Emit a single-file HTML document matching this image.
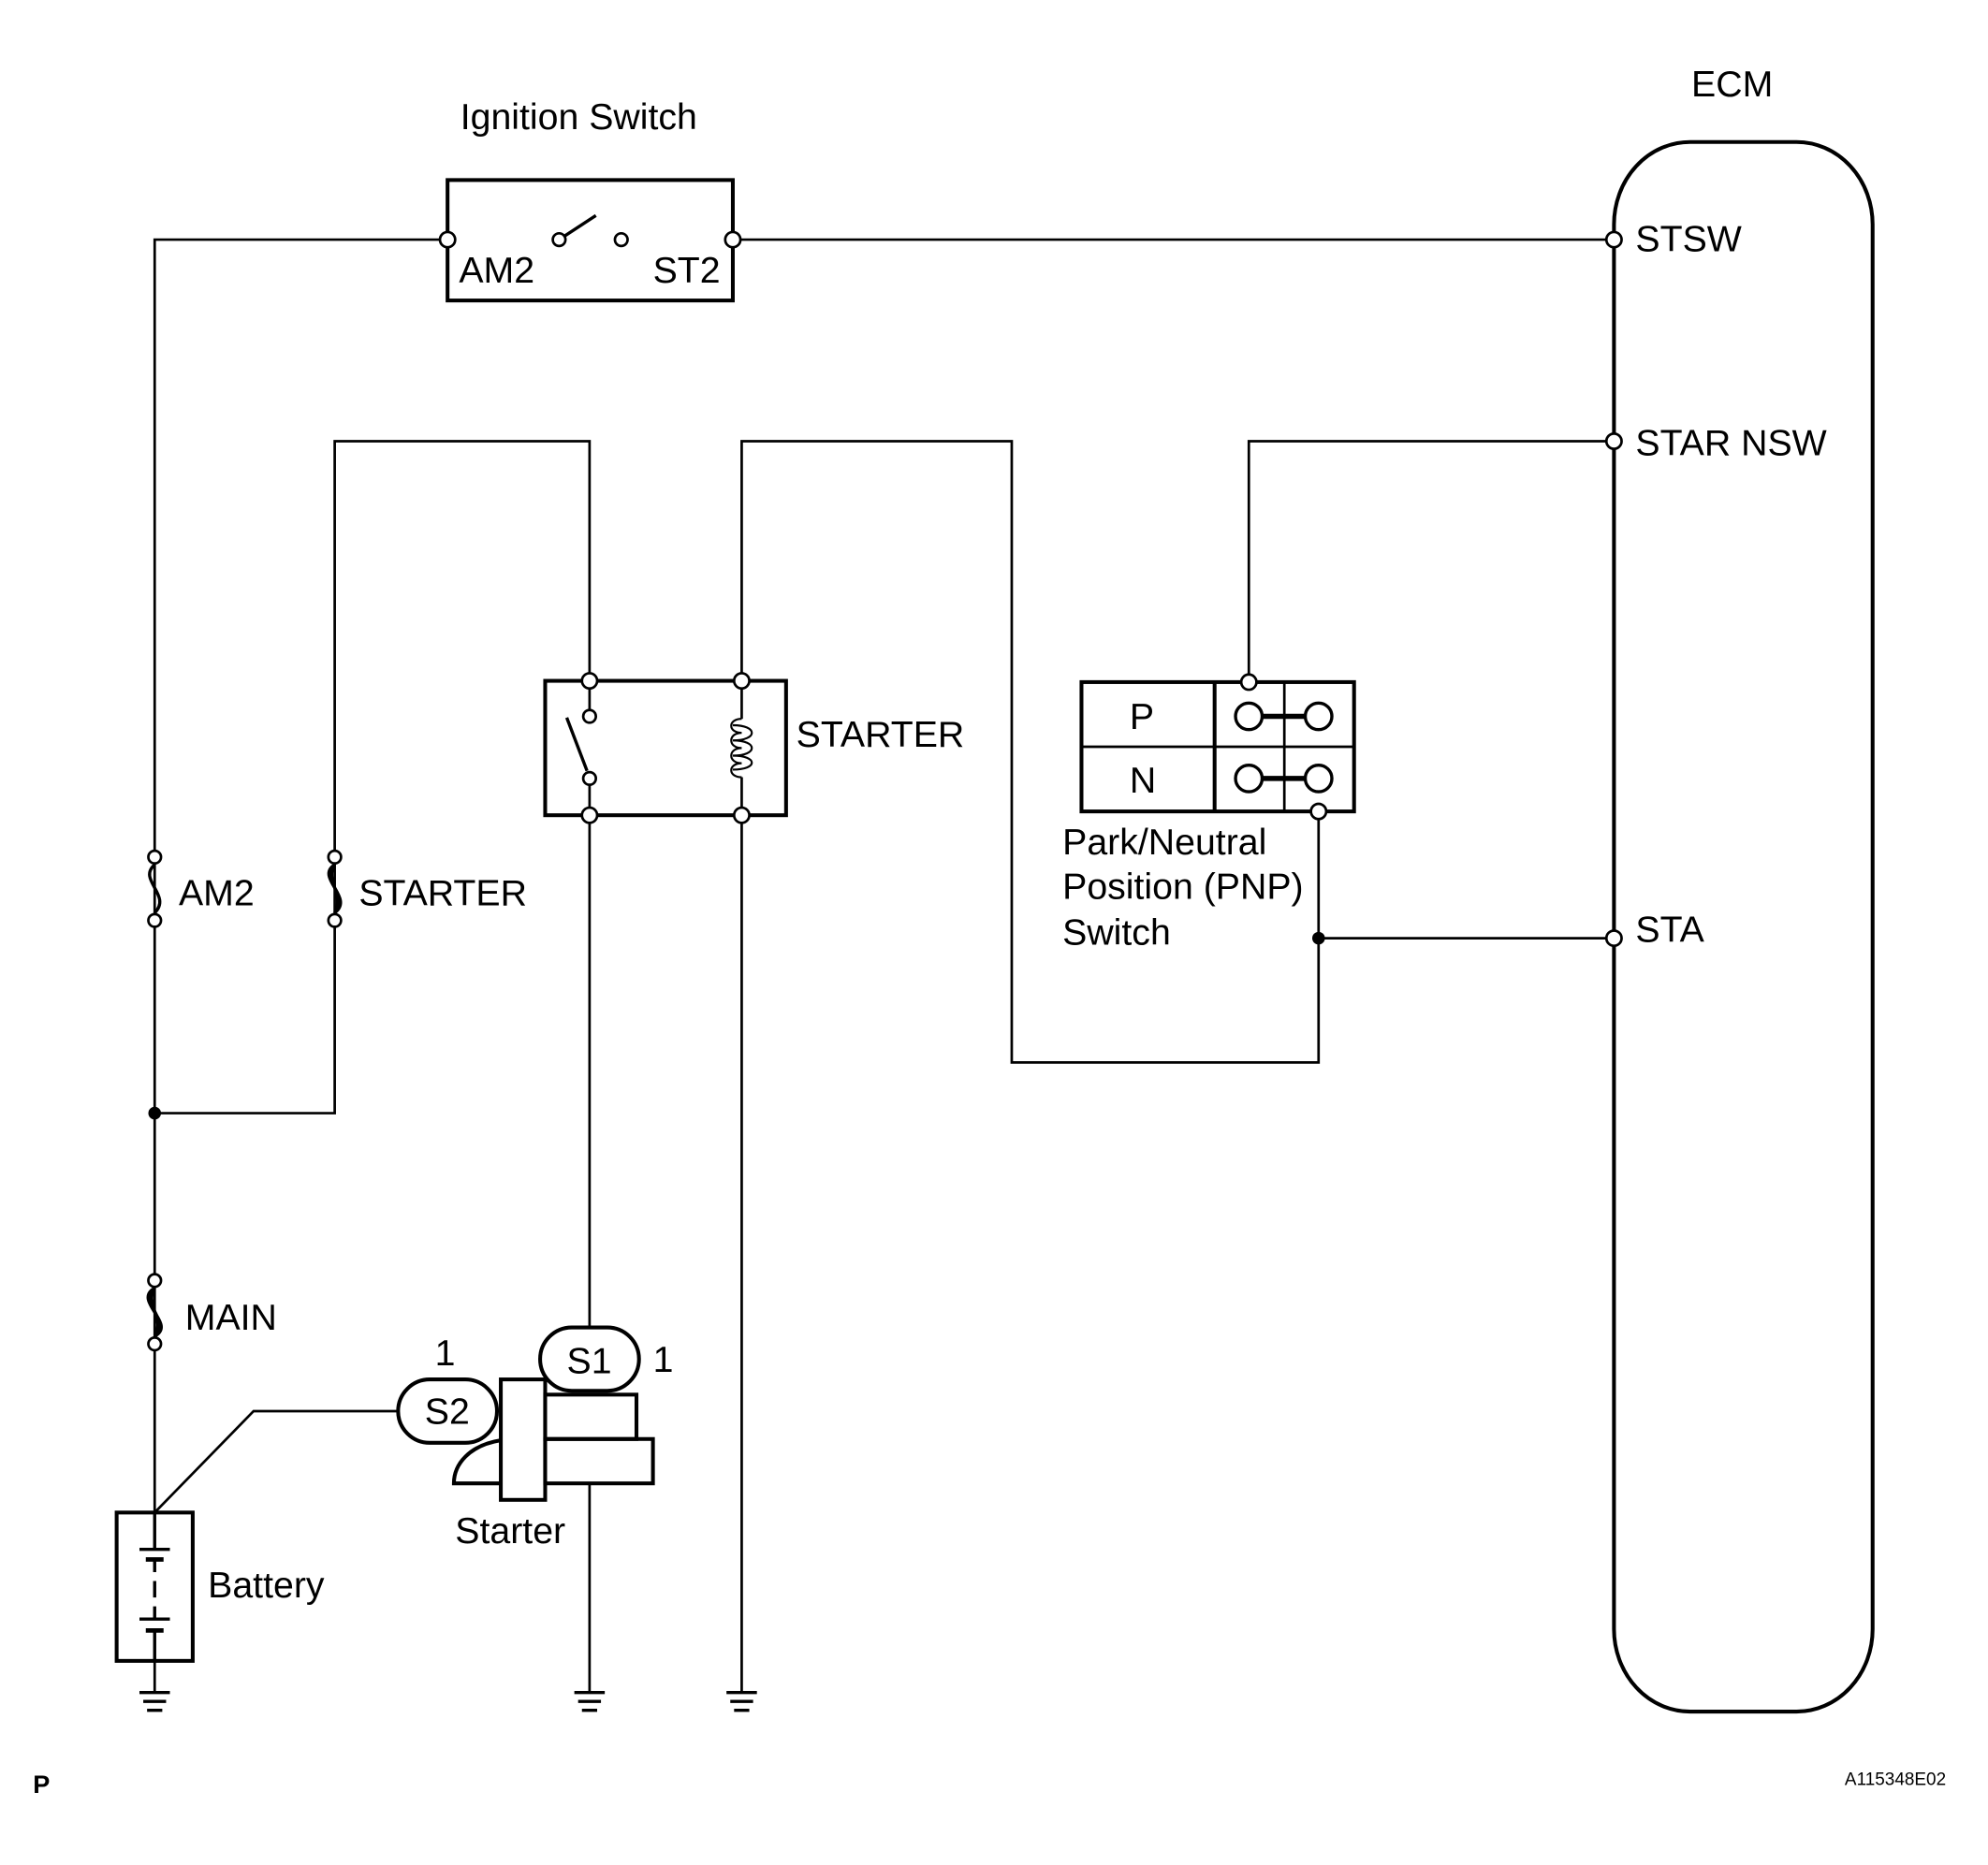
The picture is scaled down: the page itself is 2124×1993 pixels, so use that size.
<!DOCTYPE html>
<html><head><meta charset="utf-8"><style>
html,body{margin:0;padding:0;background:#fff;}
svg{display:block;}
text{font-family:"Liberation Sans",Arial,sans-serif;fill:#000;}
</style></head><body>
<svg width="2124" height="1993" viewBox="0 0 1568 1471" preserveAspectRatio="none" xmlns="http://www.w3.org/2000/svg">
<g fill="none" stroke="#000" stroke-width="2">
<polyline points="353,189 122,189 122,1193"/>
<line x1="578" y1="189" x2="1273" y2="189"/>
<polyline points="122,878 264,878 264,348 465,348 465,537"/>
<polyline points="585,537 585,348 798,348 798,838 1040,838 1040,640"/>
<polyline points="985,538 985,348 1273,348"/>
<line x1="1040" y1="740" x2="1273" y2="740"/>
<line x1="465" y1="643" x2="465" y2="1048"/>
<line x1="465" y1="1170" x2="465" y2="1335"/>
<line x1="585" y1="643" x2="585" y2="1335"/>
<line x1="122" y1="1310" x2="122" y2="1335"/>
<polyline points="122,1193 200,1113 313,1113"/>
</g>
<g fill="none" stroke="#000" stroke-width="3">
<rect x="353" y="142" width="225" height="95"/>
<line x1="441" y1="189" x2="470" y2="170" stroke-width="2.5"/>
<rect x="430" y="537" width="190" height="106"/>
<line x1="465" y1="537" x2="465" y2="565" stroke-width="2"/>
<line x1="465" y1="614" x2="465" y2="643" stroke-width="2"/>
<line x1="447" y1="566" x2="463" y2="608" stroke-width="2.5"/>
<line x1="585" y1="537" x2="585" y2="567" stroke-width="2"/>
<line x1="585" y1="613" x2="585" y2="643" stroke-width="2"/>
<path d="M585,567 C574,567 574,578 585,578 M585,578 C574,578 574,590 585,590 M585,590 C574,590 574,602 585,602 M585,602 C574,602 574,613 585,613 M578,572 C598,572 598,584 578,584 M578,584 C598,584 598,596 578,596 M578,596 C598,596 598,607 578,607" stroke-width="1.6"/>
<rect x="853" y="538" width="215" height="102"/>
<line x1="853" y1="589" x2="1068" y2="589" stroke-width="2"/>
<line x1="958" y1="538" x2="958" y2="640"/>
<line x1="1013" y1="538" x2="1013" y2="640" stroke-width="2"/>
<line x1="996" y1="565" x2="1029" y2="565" stroke-width="4"/>
<line x1="996" y1="614" x2="1029" y2="614" stroke-width="4"/>
<rect x="1273" y="112" width="204" height="1238" rx="60" ry="65"/>
<rect x="92" y="1193" width="60" height="117"/>
<rect x="395" y="1088" width="35" height="95"/>
<rect x="430" y="1100" width="72" height="35"/>
<rect x="430" y="1135" width="85" height="35"/>
<path d="M395,1136 C370,1140 358,1155 358,1170 L395,1170"/>
<rect x="314" y="1088" width="78" height="50" rx="25" fill="#fff"/>
<rect x="426" y="1047" width="78" height="50" rx="25" fill="#fff"/>
</g>
<g stroke="#000" stroke-width="2.5">
<line x1="122" y1="1193" x2="122" y2="1222"/>
<line x1="110" y1="1222" x2="134" y2="1222"/>
<line x1="115" y1="1230" x2="129" y2="1230" stroke-width="3.5"/>
<line x1="122" y1="1230" x2="122" y2="1240"/>
<line x1="122" y1="1247" x2="122" y2="1260"/>
<line x1="122" y1="1267" x2="122" y2="1277"/>
<line x1="110" y1="1277" x2="134" y2="1277"/>
<line x1="115" y1="1286" x2="129" y2="1286" stroke-width="3.5"/>
<line x1="122" y1="1286" x2="122" y2="1310"/>
</g>
<g stroke="#000" stroke-width="2.5">
<g id="gnd"><line x1="110" y1="1335" x2="134" y2="1335"/><line x1="113" y1="1342" x2="131" y2="1342"/><line x1="116" y1="1349" x2="128" y2="1349"/></g>
<use href="#gnd" x="343"/>
<use href="#gnd" x="463"/>
</g>
<g fill="none" stroke="#000" stroke-width="2.5">
<path d="M122,682 C108,694 136,706 122,720"/>
<path d="M264,682 C248,692 280,708 264,720 M264,682 C256,694 272,706 264,720"/>
<path d="M122,1016 C104,1026 140,1044 122,1054 M122,1016 C114,1028 130,1040 122,1054 M122,1016 C108,1026 136,1042 122,1054"/>
</g>
<g fill="#fff" stroke="#000" stroke-width="2">
<circle cx="353" cy="189" r="6"/><circle cx="578" cy="189" r="6"/>
<circle cx="441" cy="189" r="5"/><circle cx="490" cy="189" r="5"/>
<circle cx="1273" cy="189" r="6"/><circle cx="1273" cy="348" r="6"/><circle cx="1273" cy="740" r="6"/>
<circle cx="465" cy="537" r="6"/><circle cx="585" cy="537" r="6"/><circle cx="465" cy="643" r="6"/><circle cx="585" cy="643" r="6"/>
<circle cx="465" cy="565" r="5"/><circle cx="465" cy="614" r="5"/>
<circle cx="985" cy="538" r="6"/><circle cx="1040" cy="640" r="6"/>
<circle cx="985" cy="565" r="10.5" stroke-width="2.5"/><circle cx="1040" cy="565" r="10.5" stroke-width="2.5"/>
<circle cx="985" cy="614" r="10.5" stroke-width="2.5"/><circle cx="1040" cy="614" r="10.5" stroke-width="2.5"/>
<circle cx="122" cy="676" r="5"/><circle cx="122" cy="726" r="5"/>
<circle cx="264" cy="676" r="5"/><circle cx="264" cy="726" r="5"/>
<circle cx="122" cy="1010" r="5"/><circle cx="122" cy="1060" r="5"/>
</g>
<circle cx="122" cy="878" r="5" fill="#000"/>
<circle cx="1040" cy="740" r="5" fill="#000"/>
<g font-size="29">
<text x="363" y="102">Ignition Switch</text>
<text x="1334" y="76">ECM</text>
<text x="362" y="223">AM2</text>
<text x="515" y="223">ST2</text>
<text x="1290" y="198">STSW</text>
<text x="1290" y="359">STAR NSW</text>
<text x="1290" y="743">STA</text>
<text x="628" y="589">STARTER</text>
<text x="891" y="575">P</text>
<text x="891" y="625">N</text>
<text x="838" y="674">Park/Neutral</text>
<text x="838" y="709">Position (PNP)</text>
<text x="838" y="745">Switch</text>
<text x="141" y="714">AM2</text>
<text x="283" y="714">STARTER</text>
<text x="146" y="1049">MAIN</text>
<text x="343" y="1077">1</text>
<text x="515" y="1082">1</text>
<text x="335" y="1123">S2</text>
<text x="447" y="1083">S1</text>
<text x="359" y="1217">Starter</text>
<text x="164" y="1260">Battery</text>
</g>
<text x="26" y="1414" font-size="20" font-weight="bold">P</text>
<text x="1455" y="1408" font-size="14">A115348E02</text>
</svg>
</body></html>
